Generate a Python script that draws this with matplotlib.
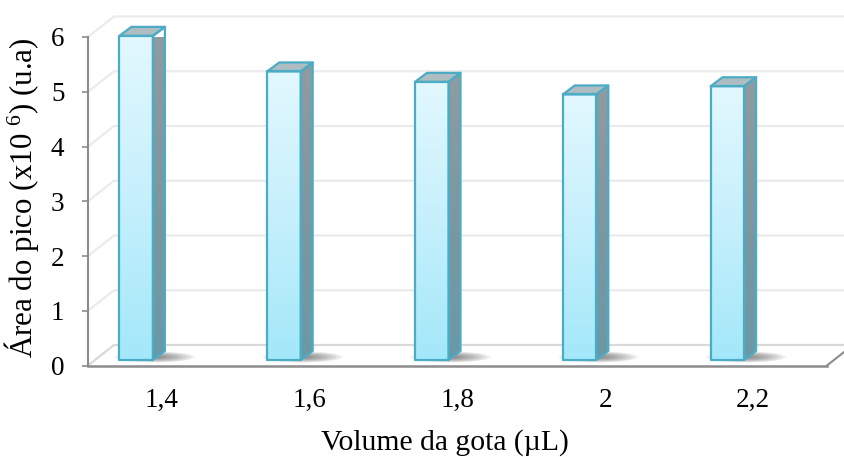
import numpy as np
import matplotlib
matplotlib.use("Agg")
import matplotlib.pyplot as plt
from matplotlib.patches import Polygon, Ellipse
from matplotlib.colors import LinearSegmentedColormap

plt.rcParams['font.family'] = ['Liberation Serif', 'DejaVu Serif']
plt.rcParams['mathtext.fontset'] = 'custom'
plt.rcParams['mathtext.rm'] = 'Liberation Serif'
plt.rcParams['mathtext.it'] = 'Liberation Serif:italic'
plt.rcParams['mathtext.default'] = 'regular'

# Data
categories = ["1,4", "1,6", "1,8", "2", "2,2"]
peak_area = [5.92, 5.27, 5.08, 4.85, 5.00]
y_ticks = [0, 1, 2, 3, 4, 5, 6]

W, H, DPI = 844, 457, 100
fig = plt.figure(figsize=(W / DPI, H / DPI), dpi=DPI)
fig.patch.set_facecolor('white')

# Front plane of the 3D box
left_px, right_px, top_px, bottom_px = 88, 827, 37, 365.5
ax = fig.add_axes([left_px / W, (H - bottom_px) / H,
                   (right_px - left_px) / W, (bottom_px - top_px) / H])
n = len(categories)
ax.set_xlim(-0.5, n - 0.5)
ax.set_ylim(0, 6)
ax.patch.set_alpha(0)

xu = (right_px - left_px) / n          # pixels per category unit
yu = (bottom_px - top_px) / 6.0        # pixels per value unit

# depth of walls
wdx, wdy = 26 / xu, 20.5 / yu
# bar geometry
bar_off = -42.5 / xu
bar_w = 33.5 / xu
bar_base = 5.5 / yu
bdx, bdy = 12 / xu, 9 / yu

grid_c = '#ebebeb'
axis_c = '#8c8c8c'

# side wall and back wall gridlines
for v in y_ticks:
    c = '#d9d9d9' if v == 0 else grid_c
    ax.plot([-0.5, -0.5 + wdx, n - 0.5 + wdx + 1], [v, v + wdy, v + wdy],
            color=c, lw=1.6, clip_on=False, zorder=0.5,
            solid_capstyle='butt')

# right floor edge
ax.plot([n - 0.5, n - 0.5 + wdx], [0, wdy], color=axis_c, lw=1.5,
        clip_on=False, zorder=1)

front_cmap = LinearSegmentedColormap.from_list(
    'front', ['#a3e8fa', '#c6f0fc', '#e2f8fe'])
side_cmap = LinearSegmentedColormap.from_list(
    'side', ['#6a99a6', '#7d97a0', '#8f9ca1'])
edge_c = '#4bacc6'
grad = np.linspace(0, 1, 256).reshape(-1, 1)

for i, v in enumerate(peak_area):
    x0 = i + bar_off
    x1 = x0 + bar_w
    y0 = bar_base
    y1 = bar_base + v

    # soft shadow on the floor
    cx = x1 + 2 / xu
    cy = y0 + 3 / yu
    for k in range(12):
        f = 1 - k / 12
        e = Ellipse((cx, cy), width=(72 * f + 8) / xu, height=(9 * f + 2) / yu,
                    facecolor='#505050', edgecolor='none', alpha=0.07,
                    zorder=1.5, clip_on=False)
        ax.add_patch(e)

    front = Polygon([(x0, y0), (x1, y0), (x1, y1), (x0, y1)], closed=True,
                    facecolor='none', edgecolor=edge_c, lw=1.6, zorder=4,
                    joinstyle='round', clip_on=False)
    side = Polygon([(x1, y0), (x1 + bdx, y0 + bdy), (x1 + bdx, y1 + bdy),
                    (x1, y1)], closed=True, facecolor='none',
                   edgecolor=edge_c, lw=1.6, zorder=4, joinstyle='round',
                   clip_on=False)
    top = Polygon([(x0, y1), (x1, y1), (x1 + bdx, y1 + bdy),
                   (x0 + bdx, y1 + bdy)], closed=True, facecolor='#aebdc1',
                  edgecolor=edge_c, lw=1.6, zorder=4, joinstyle='round',
                  clip_on=False)

    im = ax.imshow(grad, extent=(x0, x1, y0, y1), origin='lower',
                   cmap=front_cmap, aspect='auto', zorder=3,
                   interpolation='bilinear')
    clip_f = Polygon(front.get_xy(), closed=True, transform=ax.transData)
    im.set_clip_path(clip_f)

    ims = ax.imshow(grad, extent=(x1, x1 + bdx, y0, y1 + bdy), origin='lower',
                    cmap=side_cmap, aspect='auto', zorder=3,
                    interpolation='bilinear')
    clip_s = Polygon(side.get_xy(), closed=True, transform=ax.transData)
    ims.set_clip_path(clip_s)

    ax.add_patch(top)
    ax.add_patch(side)
    ax.add_patch(front)

ax.set_xlim(-0.5, n - 0.5)
ax.set_ylim(0, 6)

# axes lines
for s in ['top', 'right']:
    ax.spines[s].set_visible(False)
ax.spines['left'].set_color(axis_c)
ax.spines['left'].set_linewidth(1.5)
ax.spines['bottom'].set_color(axis_c)
ax.spines['bottom'].set_linewidth(1.8)
ax.spines['left'].set_zorder(6)
ax.spines['bottom'].set_zorder(6)

ax.set_yticks(y_ticks)
ax.set_yticklabels([str(t) for t in y_ticks])
ax.set_xticks(range(n))
ax.set_xticklabels(categories)
ax.tick_params(axis='y', direction='out', length=4.5, width=1.2,
               color=axis_c, labelsize=19.5, pad=12.5, labelcolor='black')
ax.tick_params(axis='x', length=0, labelsize=19.5, pad=16, labelcolor='black')

fig.text(445 / W, (H - 450) / H, 'Volume da gota (µL)', ha='center',
         va='baseline', fontsize=21.3, color='black')
fig.text(22 / W, (H - 198) / H, 'Área do pico (x10 $^{6}$) (u.a)',
         rotation=90, ha='center', va='center', fontsize=22.3,
         color='black')

fig.savefig('out.png', dpi=DPI, facecolor='white')
